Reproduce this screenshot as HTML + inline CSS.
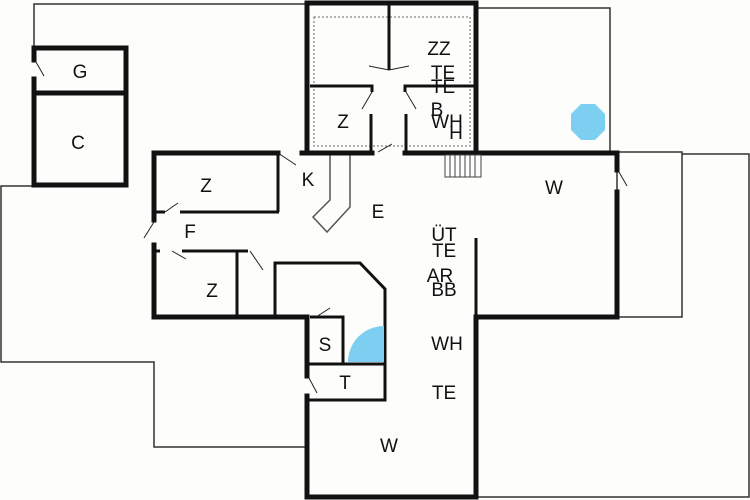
<!DOCTYPE html>
<html><head><style>
html,body{margin:0;padding:0;background:#fdfdfb}
svg{display:block}
text{font-family:"Liberation Sans",sans-serif;font-size:19px;fill:#111;text-anchor:middle}
</style></head><body>
<svg width="750" height="500" viewBox="0 0 750 500" xmlns="http://www.w3.org/2000/svg">
<rect width="750" height="500" fill="#fdfdfb"/>
<g fill="none" stroke="#333" stroke-width="1.5">
<polyline points="34,46 34,4 307,4"/>
<polyline points="476,8 610,8 610,152"/>
<polyline points="34,186 1,186 1,362 154,362 154,447 307,447"/>
<rect x="617" y="152" width="65" height="165"/>
<polyline points="682,154 749,154 749,497 476,497"/>
<rect x="314" y="17" width="156" height="129" stroke-dasharray="2,2" stroke="#666" stroke-width="1"/>
<polyline points="330,155 330,200 313,217 327,232 350,207 350,155" stroke="#555"/>
</g>
<g fill="none" stroke="#111" stroke-width="5" stroke-linecap="square">
<polyline points="34,60 34,48 126,48 126,185 34,185 34,79"/>
<line x1="34" y1="93" x2="126" y2="93"/>
<polyline points="307,153 307,3 476,3 476,153"/>
<line x1="302" y1="153" x2="372" y2="153"/>
<line x1="405" y1="153" x2="617" y2="153"/>
<line x1="617" y1="153" x2="617" y2="170"/>
<line x1="617" y1="192" x2="617" y2="317"/>
<line x1="476" y1="317" x2="617" y2="317"/>
<line x1="476" y1="317" x2="476" y2="497"/>
<line x1="307" y1="497" x2="476" y2="497"/>
<line x1="307" y1="317" x2="307" y2="376"/>
<line x1="307" y1="396" x2="307" y2="497"/>
<polyline points="154,220 154,153 278,153"/>
<polyline points="154,245 154,317 307,317"/>
</g>
<g fill="none" stroke="#111" stroke-width="3">
<line x1="389" y1="5" x2="389" y2="70"/>
<polyline points="310,86 372,86 372,92"/>
<polyline points="405,92 405,86 474,86"/>
<line x1="371" y1="114" x2="371" y2="153"/>
<line x1="406" y1="114" x2="406" y2="153"/>
<line x1="278" y1="153" x2="278" y2="212"/>
<line x1="180" y1="212" x2="279" y2="212"/>
<line x1="154" y1="212" x2="165" y2="212"/>
<polyline points="155,251 160,251"/>
<polyline points="182,251 248,251"/>
<line x1="237" y1="251" x2="237" y2="317"/>
<polyline points="275,317 275,263 360,263 385,289 385,400 307,400"/>
<line x1="307" y1="364" x2="385" y2="364"/>
<polyline points="310,317 343,317 343,364"/>
<line x1="476" y1="238" x2="476" y2="317"/>
</g>
<g stroke="#222" stroke-width="1" fill="none">
<line x1="36" y1="62" x2="44" y2="76"/>
<line x1="369" y1="66" x2="389" y2="70"/><line x1="409" y1="66" x2="389" y2="70"/>
<line x1="372" y1="92" x2="362" y2="109"/><line x1="406" y1="92" x2="416" y2="109"/>
<line x1="378" y1="152" x2="392" y2="144"/>
<line x1="278" y1="153" x2="296" y2="165"/>
<line x1="165" y1="212" x2="178" y2="203"/>
<line x1="154" y1="222" x2="144" y2="238"/>
<line x1="172" y1="251" x2="186" y2="259"/>
<line x1="250" y1="251" x2="263" y2="270"/>
<line x1="316" y1="317" x2="330" y2="308"/>
<line x1="309" y1="378" x2="317" y2="393"/>
<line x1="619" y1="172" x2="627" y2="186"/>
</g>
<g stroke="#444" stroke-width="1" fill="none">
<rect x="445" y="155" width="36" height="22"/>
<line x1="450" y1="155" x2="450" y2="177"/><line x1="455" y1="155" x2="455" y2="177"/>
<line x1="460" y1="155" x2="460" y2="177"/><line x1="465" y1="155" x2="465" y2="177"/>
<line x1="470" y1="155" x2="470" y2="177"/><line x1="475" y1="155" x2="475" y2="177"/>
</g>
<path d="M384,362 L348,362 A36,36 0 0 1 384,326 Z" fill="#7ccff0"/>
<polygon points="581,104 595,104 605,114 605,130 595,140 581,140 571,130 571,114" fill="#7ccff0"/>
<text x="80" y="78">G</text>
<text x="78" y="149">C</text>
<text x="206" y="192">Z</text>
<text x="308" y="186">K</text>
<text x="378" y="218">E</text>
<text x="190" y="238">F</text>
<text x="212" y="297">Z</text>
<text x="325" y="351">S</text>
<text x="345" y="389">T</text>
<text x="389" y="452">W</text>
<text x="554" y="194">W</text>
<text x="343" y="128">Z</text>
<text x="439" y="55">ZZ</text>
<text x="443" y="79">TE</text>
<text x="443" y="93">TE</text>
<text x="437" y="116">B</text>
<text x="447" y="128">WH</text>
<text x="456" y="139">H</text>
<text x="444" y="241">ÜT</text>
<text x="444" y="257">TE</text>
<text x="440" y="282">AR</text>
<text x="444" y="296">BB</text>
<text x="447" y="350">WH</text>
<text x="444" y="399">TE</text>
</svg>
</body></html>
